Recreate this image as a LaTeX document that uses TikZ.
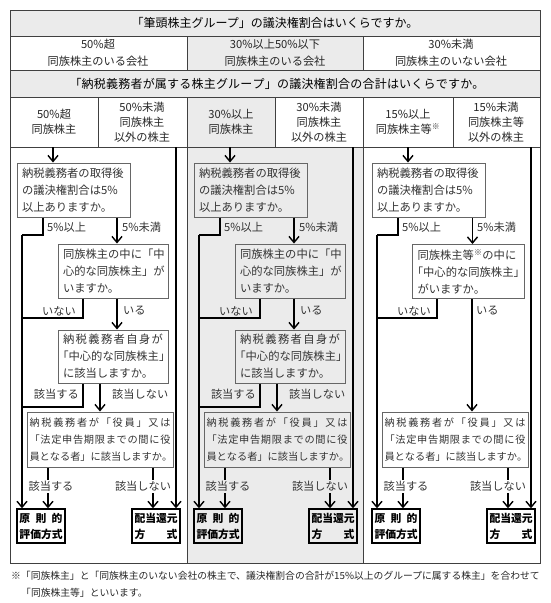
\documentclass[tikz,border=0pt]{standalone}
\usepackage{fontspec}
\setmainfont{Noto Sans CJK JP}
\usetikzlibrary{arrows.meta}

% spread the characters of one line over a given width
\makeatletter
\newcommand\spread[2]{\makebox[#1][s]{\spreadnext#2\relax}}
\def\spreadnext#1#2{#1\ifx\relax#2\expandafter\@gobble\else\hfil\expandafter\spreadnext\fi#2}
\makeatother

\tikzset{
  paper/.style={fill=black!8},
  rule/.style={draw=black!75, line width=.8pt},
  cell/.style={inner sep=0pt, align=center, text=black!85, font=\fontsize{11.2}{15}\selectfont},
  ask/.style={draw=black!60, line width=1pt, inner xsep=5pt, inner ysep=0pt, minimum height=54pt, align=left, text=black!80, font=\fontsize{11.3}{17}\selectfont},
  res/.style={draw, line width=1.4pt, minimum width=48pt, minimum height=34pt, inner sep=0pt, align=center, font=\bfseries\fontsize{10.8}{16}\selectfont},
  lab/.style={inner sep=1pt, text=black!80, font=\fontsize{11.2}{13}\selectfont},
  wire/.style={line width=1.4pt},
  flow/.style={wire, -{Straight Barb[length=6pt,width=10pt]}},
  note/.style={inner sep=0pt, anchor=west, text=black!85, font=\fontsize{9.8}{12}\selectfont}
}

\begin{document}
\begin{tikzpicture}[x=1pt, y=-1pt]
    \useasboundingbox (0,0) rectangle (550,603);

    % Shaded rows and the middle column
    \fill[paper] (10,10) rectangle (540,36);
    \fill[paper] (187,36) rectangle (363,70);
    \fill[paper] (10,70) rectangle (540,97);
    \fill[paper] (187,97) rectangle (275,147);
    \fill[paper] (187,147) rectangle (363,563);

    % Table rules
    \draw[rule] (10,10) rectangle (540,563);
    \foreach \y in {36,70,97,147} \draw[rule] (10,\y) -- (540,\y);
    \foreach \x in {187,363} {
        \draw[rule] (\x,36) -- (\x,70);
        \draw[rule] (\x,97) -- (\x,563);
    }
    \foreach \x in {98,275,453} \draw[rule] (\x,97) -- (\x,147);

    % Header texts
    \node[cell, font=\fontsize{12}{14}\selectfont, text=black] (top) at (275,23) {「筆頭株主グループ」の議決権割合はいくらですか。};
    \node[cell, font=\fontsize{11.2}{16.5}\selectfont] (grpA) at (98,53) {50\%超\\同族株主のいる会社};
    \node[cell, font=\fontsize{11.2}{16.5}\selectfont] (grpB) at (275,53) {30\%以上50\%以下\\同族株主のいる会社};
    \node[cell, font=\fontsize{11.2}{16.5}\selectfont] (grpC) at (451,53) {30\%未満\\同族株主のいない会社};
    \node[cell, font=\fontsize{12}{14}\selectfont, text=black] (sum) at (277,84) {\spread{415pt}{「納税義務者が属する株主グループ」の議決権割合の合計はいくらですか。}};
    \node[cell] (shA1) at (54,122) {50\%超\\同族株主};
    \node[cell] (shA2) at (142,122) {50\%未満\\同族株主\\以外の株主};
    \node[cell] (shB1) at (231,122) {30\%以上\\同族株主};
    \node[cell] (shB2) at (319,122) {30\%未満\\同族株主\\以外の株主};
    \node[cell] (shC1) at (408,122) {15\%以上\\同族株主等\textsuperscript{※}};
    \node[cell] (shC2) at (496,122) {15\%未満\\同族株主等\\以外の株主};

    % Parts shared by all three columns
    \foreach \c/\dx in {A/0,B/177,C/355} {
    \begin{scope}[xshift=\dx pt]
        \coordinate (in\c) at (53,147);
        \coordinate (rx\c) at (176,147);
        \coordinate (lx\c) at (22,235);
        \coordinate (j2\c) at (22,318);
        \coordinate (e1\c) at (48,493);
        \coordinate (e2\c) at (153,493);

        \node[ask, text width=103pt] (q1\c) at (73.5,190) {納税義務者の取得後\\の議決権割合は5\%\\以上ありますか。};
        \node[ask, inner xsep=2.5pt, minimum height=55pt, text width=141pt, font=\fontsize{10.2}{17}\selectfont] (q4\c) at (100,439.5)
            {\spread{141pt}{納税義務者が「役員」又は}\\\spread{141pt}{「法定申告期限までの間に役}\\\spread{141pt}{員となる者」に該当しますか。}};
        \node[res] (r1\c) at (41,526) {\spread{43pt}{原則的}\\\spread{43pt}{評価方式}};
        \node[res] (r2\c) at (156,526) {\spread{43pt}{配当還元}\\\spread{43pt}{方式}};

        \draw[flow] (in\c) -- (in\c |- q1\c.north);
        \draw[wire] ([xshift=-30.5pt]q1\c.south) |- (lx\c);
        \draw[flow] (lx\c) -- (lx\c |- r1\c.north);
        \draw[flow] (rx\c) -- (rx\c |- r2\c.north);
        \draw[wire] (q4\c.south -| e1\c) -- ++(0,12);
        \draw[wire] (q4\c.south -| e2\c) -- ++(0,12);
        \draw[flow] (e1\c) -- (e1\c |- r1\c.north);
        \draw[flow] (e2\c) -- (e2\c |- r2\c.north);

        \node[lab, anchor=west] (ge\c) at (46,227) {5\%以上};
        \node[lab, anchor=west] (lt\c) at (121,227) {5\%未満};
        \node[lab, anchor=east] (no\c) at (77,311) {いない};
        \node[lab] (y4\c) at (51,486) {該当する};
        \node[lab] (n4\c) at (143,486) {該当しない};
    \end{scope}
    }

    % Columns A and B: two more questions
    \foreach \c/\dx in {A/0,B/177} {
    \begin{scope}[xshift=\dx pt]
        \coordinate (j3\c) at (22,407);
        \node[ask, text width=100pt] (q2\c) at (113,271) {同族株主の中に「中\\心的な同族株主」が\\いますか。};
        \node[ask, text width=100pt, minimum height=53pt] (q3\c) at (113,356.5) {\spread{100pt}{納税義務者自身が}\\\hspace*{-.5em}「中心的な同族株主」\\に該当しますか。};

        \draw[flow] ([xshift=4pt]q2\c.north |- q1\c.south) -- ([xshift=4pt]q2\c.north);
        \draw[wire] ([xshift=-30pt]q2\c.south) |- (j2\c);
        \draw[flow] ([xshift=4pt]q3\c.north |- q2\c.south) -- ([xshift=4pt]q3\c.north);
        \draw[wire] ([xshift=-30pt]q3\c.south) |- (j3\c);
        \draw[flow] (q3\c.south -| q4\c.north) -- (q4\c.north);

        \node[lab, anchor=west] (ys\c) at (122,311) {いる};
        \node[lab, anchor=east] (y3\c) at (80,394) {該当する};
        \node[lab, anchor=west] (n3\c) at (111,394) {該当しない};
    \end{scope}
    }

    % Column C: one question only
    \node[ask, text width=102pt] (q2C) at (468.5,271.5) {同族株主等\textsuperscript{※}の中に\\\hspace*{-.5em}「中心的な同族株主」\\がいますか。};
    \draw[flow] ([xshift=4pt]q2C.north |- q1C.south) -- ([xshift=4pt]q2C.north);
    \draw[wire] ([xshift=-31.5pt]q2C.south) |- (j2C);
    \draw[flow] ([xshift=3.5pt]q2C.south) -- ([xshift=3.5pt]q2C.south |- q4C.north);
    \node[lab, anchor=west] (ysC) at (475,311) {いる};

    % Footnote
    \node[note] (fn1) at (11,576) {※「同族株主」と「同族株主のいない会社の株主で、議決権割合の合計が15\%以上のグループに属する株主」を合わせて};
    \node[note] (fn2) at (21,593) {「同族株主等」といいます。};
\end{tikzpicture}
\end{document}
